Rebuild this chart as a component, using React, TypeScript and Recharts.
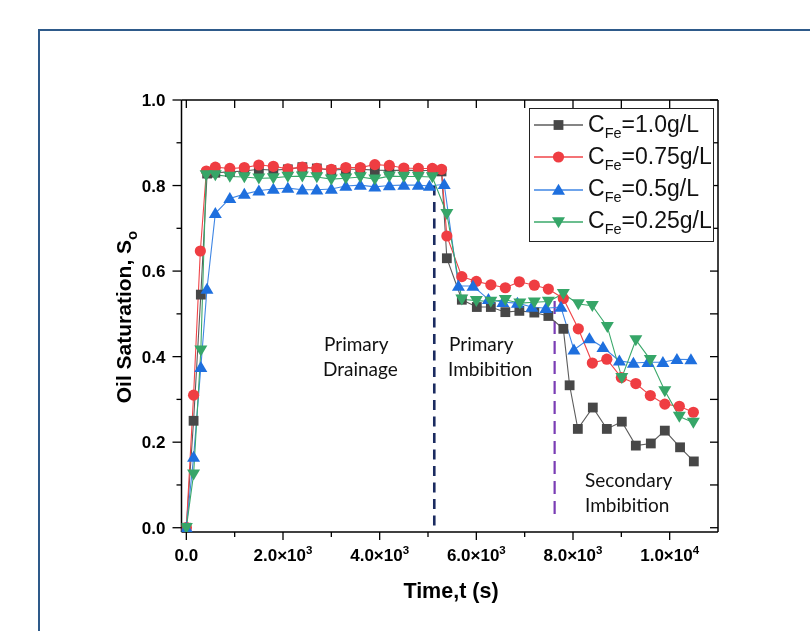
import React from 'react';
import { LineChart, Line, XAxis, YAxis, Legend, ReferenceLine, Customized } from 'recharts';

// ---------------- data ----------------
const seriesNames = ['1.0g/L', '0.75g/L', '0.5g/L', '0.25g/L'];

const timeFe100 = [0, 150, 300, 430, 600, 900, 1200, 1500, 1800, 2100, 2400, 2700, 3000, 3300, 3600, 3900, 4200, 4500, 4800, 5090, 5280, 5390, 5700, 6010, 6300, 6600, 6890, 7200, 7490, 7800, 7930, 8100, 8410, 8700, 9010, 9300, 9610, 9900, 10215, 10500];
const satFe100 = [0, 0.25, 0.545, 0.828, 0.830, 0.832, 0.834, 0.838, 0.836, 0.838, 0.843, 0.840, 0.836, 0.838, 0.838, 0.836, 0.835, 0.836, 0.835, 0.835, 0.833, 0.630, 0.533, 0.516, 0.516, 0.504, 0.507, 0.503, 0.495, 0.465, 0.333, 0.231, 0.281, 0.231, 0.248, 0.192, 0.197, 0.227, 0.188, 0.155];

const timeFe075 = [0, 150, 290, 414, 600, 900, 1200, 1500, 1800, 2100, 2400, 2700, 3000, 3300, 3600, 3900, 4200, 4500, 4800, 5090, 5280, 5390, 5700, 6000, 6300, 6600, 6890, 7200, 7490, 7800, 8110, 8400, 8700, 9000, 9300, 9600, 9900, 10200, 10490];
const satFe075 = [0, 0.31, 0.647, 0.834, 0.843, 0.840, 0.842, 0.848, 0.845, 0.839, 0.843, 0.840, 0.838, 0.842, 0.842, 0.849, 0.847, 0.841, 0.840, 0.840, 0.838, 0.682, 0.587, 0.576, 0.568, 0.561, 0.575, 0.567, 0.558, 0.536, 0.465, 0.385, 0.394, 0.351, 0.337, 0.309, 0.289, 0.284, 0.270];

const timeFe050 = [0, 150, 300, 427, 600, 900, 1200, 1500, 1800, 2100, 2400, 2700, 3000, 3300, 3600, 3900, 4200, 4500, 4800, 5030, 5335, 5630, 5930, 6250, 6550, 6850, 7150, 7440, 7750, 8020, 8340, 8620, 8960, 9250, 9550, 9860, 10150, 10440];
const satFe050 = [0, 0.165, 0.375, 0.558, 0.735, 0.770, 0.780, 0.788, 0.792, 0.794, 0.790, 0.790, 0.792, 0.799, 0.801, 0.797, 0.800, 0.801, 0.801, 0.799, 0.803, 0.565, 0.565, 0.534, 0.527, 0.525, 0.516, 0.513, 0.516, 0.416, 0.442, 0.422, 0.390, 0.385, 0.387, 0.387, 0.394, 0.393];

const timeFe025 = [0, 150, 300, 410, 600, 900, 1200, 1500, 1800, 2100, 2400, 2700, 3000, 3300, 3600, 3900, 4200, 4500, 4800, 5090, 5390, 5700, 6000, 6300, 6600, 6900, 7200, 7490, 7800, 8110, 8400, 8710, 9010, 9300, 9600, 9900, 10200, 10490];
const satFe025 = [0, 0.125, 0.415, 0.825, 0.825, 0.821, 0.820, 0.817, 0.818, 0.821, 0.822, 0.820, 0.815, 0.817, 0.820, 0.815, 0.822, 0.821, 0.821, 0.820, 0.734, 0.534, 0.531, 0.529, 0.533, 0.525, 0.527, 0.529, 0.547, 0.523, 0.519, 0.470, 0.351, 0.439, 0.393, 0.320, 0.260, 0.246];

const xTicks = [0, 1000, 2000, 3000, 4000, 5000, 6000, 7000, 8000, 9000, 10000];
const xMajorValues = [0, 2000, 4000, 6000, 8000, 10000];
const xMajorLabels = ['0.0', '2.0×10^3', '4.0×10^3', '6.0×10^3', '8.0×10^3', '1.0×10^4'];
const yTicks = [0, 0.1, 0.2, 0.3, 0.4, 0.5, 0.6, 0.7, 0.8, 0.9, 1.0];
const yMajorLabels = ['0.0', '0.2', '0.4', '0.6', '0.8', '1.0'];

const xDomain = [-100, 11000];
const yDomain = [-0.01, 1.0];

const drainageEndTime = 5130;
const imbibitionEndTime = 7620;

// ---------------- helpers ----------------
const toPoints = (t: number[], s: number[]) => t.map((tv, i) => ({ t: tv, s: s[i] }));

const AXIS_FONT = '"Liberation Sans", Arial, sans-serif';
const NOTE_FONT = 'Lato, "Open Sans", sans-serif';

const styles = [
  { marker: '#474747', line: '#5c5c5c', shape: 'square' },
  { marker: '#EF3D42', line: '#F04448', shape: 'circle' },
  { marker: '#1E6FDE', line: '#3F86E4', shape: 'up' },
  { marker: '#36A668', line: '#3AA86A', shape: 'down' },
];

const Marker = ({ cx, cy, shape, color }: any) => {
  if (cx == null || cy == null || isNaN(cx) || isNaN(cy)) return null;
  if (shape === 'square') return <rect x={cx - 4.9} y={cy - 4.9} width={9.8} height={9.8} fill={color} />;
  if (shape === 'circle') return <circle cx={cx} cy={cy} r={5.6} fill={color} />;
  if (shape === 'up') return <polygon points={`${cx},${cy - 6.3} ${cx - 6.5},${cy + 4.7} ${cx + 6.5},${cy + 4.7}`} fill={color} />;
  return <polygon points={`${cx - 6.5},${cy - 4.7} ${cx + 6.5},${cy - 4.7} ${cx},${cy + 6.3}`} fill={color} />;
};

const makeDot = (shape: string, color: string) => (props: any) => (
  <Marker key={`d-${shape}-${props.index}`} cx={props.cx} cy={props.cy} shape={shape} color={color} />
);

const BottomTick = (props: any) => {
  const { x, y, payload } = props;
  const v = payload.value;
  const mi = xMajorValues.indexOf(v);
  const major = mi >= 0;
  let label: any = null;
  if (major) {
    const [base, exp] = xMajorLabels[mi].split('^');
    label = (
      <text x={x} y={y + 29} textAnchor="middle" fontFamily={AXIS_FONT} fontWeight="bold" fontSize={17} fill="#000">
        <tspan>{base}</tspan>
        {exp ? <tspan dy={-7} fontSize={11.5}>{exp}</tspan> : null}
      </text>
    );
  }
  return (
    <g>
      <line x1={x} y1={y} x2={x} y2={y + (major ? 8 : 5)} stroke="#000" strokeWidth={1.3} />
      {label}
    </g>
  );
};

const TopTick = (props: any) => {
  const { x, y } = props;
  return <line x1={x} y1={y} x2={x} y2={y + 8} stroke="#000" strokeWidth={1.3} />;
};

const LeftTick = (props: any) => {
  const { x, y, index } = props;
  const major = index % 2 === 0;
  return (
    <g>
      <line x1={x - (major ? 9 : 5)} y1={y} x2={x} y2={y} stroke="#000" strokeWidth={1.3} />
      {major ? (
        <text x={x - 16} y={y + 6} textAnchor="end" fontFamily={AXIS_FONT} fontWeight="bold" fontSize={17} fill="#000">
          {yMajorLabels[index / 2]}
        </text>
      ) : null}
    </g>
  );
};

const RightTick = (props: any) => {
  const { x, y } = props;
  return <line x1={x - 8} y1={y} x2={x} y2={y} stroke="#000" strokeWidth={1.3} />;
};

const renderLegend = () => (
  <div style={{ position: 'relative', width: 185, height: 134, border: '1px solid #222', boxSizing: 'border-box', background: '#fff' }}>
    {seriesNames.map((name, i) => (
      <div key={name} style={{ position: 'absolute', left: 0, top: i * 32.3, height: 32, display: 'flex', alignItems: 'center' }}>
        <svg width={58} height={32} style={{ display: 'block' }}>
          <line x1={4} x2={53} y1={16} y2={16} stroke={styles[i].line} strokeWidth={1.3} />
          <Marker cx={28.5} cy={16} shape={styles[i].shape} color={styles[i].marker} />
        </svg>
        <span style={{ fontFamily: AXIS_FONT, fontSize: 23, color: '#111', whiteSpace: 'nowrap', lineHeight: '32px' }}>
          C<span style={{ fontSize: 14.5, position: 'relative', top: 6 }}>Fe</span>={name}
        </span>
      </div>
    ))}
  </div>
);

const Annotations = () => (
  <g>
    <text x={123} y={309} transform="rotate(-90 123 309)" textAnchor="middle" fontFamily={AXIS_FONT} fontWeight="bold" fontSize={21} fill="#000">
      <tspan>Oil Saturation, S</tspan>
      <tspan dy={6} fontSize={15}>o</tspan>
    </text>
    <text x={443} y={590} textAnchor="middle" fontFamily={AXIS_FONT} fontWeight="bold" fontSize={21.5} fill="#000">
      Time,t (s)
    </text>
    <g fontFamily={NOTE_FONT} fontSize={19} fill="#111">
      <text x={316} y={343}>Primary</text>
      <text x={315} y={368}>Drainage</text>
      <text x={441} y={343}>Primary</text>
      <text x={440} y={368}>Imbibition</text>
      <text x={577} y={479}>Secondary</text>
      <text x={577} y={504}>Imbibition</text>
    </g>
  </g>
);

const allSeries = [
  toPoints(timeFe100, satFe100),
  toPoints(timeFe075, satFe075),
  toPoints(timeFe050, satFe050),
  toPoints(timeFe025, satFe025),
];

export default function App() {
  return (
    <div style={{ position: 'relative', width: 794, height: 615, background: '#fff' }}>
      <div
        style={{
          position: 'fixed', left: 38, top: 29, width: 900, height: 800,
          borderLeft: '2px solid #2E5A8A', borderTop: '2px solid #2E5A8A', boxSizing: 'border-box',
        }}
      />
      <LineChart width={794} height={615} margin={{ top: 82, right: 74, bottom: 31, left: 103.5 }} style={{ position: 'absolute', left: 0, top: 0 }}>
        <XAxis dataKey="t" type="number" domain={xDomain} ticks={xTicks} interval={0} allowDataOverflow
          height={60} tickSize={0} tickMargin={0} tick={<BottomTick />} tickLine={false}
          axisLine={{ stroke: '#000', strokeWidth: 1.5 }} />
        <XAxis xAxisId="top" orientation="top" dataKey="t" type="number" domain={xDomain} ticks={xTicks} interval={0} allowDataOverflow
          height={10} tickSize={0} tickMargin={0} tick={<TopTick />} tickLine={false}
          axisLine={{ stroke: '#000', strokeWidth: 1.5 }} />
        <YAxis type="number" domain={yDomain} ticks={yTicks} interval={0} allowDataOverflow
          width={70} tickSize={0} tickMargin={0} tick={<LeftTick />} tickLine={false}
          axisLine={{ stroke: '#000', strokeWidth: 1.5 }} />
        <YAxis yAxisId="right" orientation="right" type="number" domain={yDomain} ticks={yTicks} interval={0} allowDataOverflow
          width={10} tickSize={0} tickMargin={0} tick={<RightTick />} tickLine={false}
          axisLine={{ stroke: '#000', strokeWidth: 1.5 }} />
        <ReferenceLine segment={[{ x: drainageEndTime, y: 0.80 }, { x: drainageEndTime, y: -0.01 }]}
          stroke="#1B2B60" strokeWidth={2.6} strokeDasharray="10 6.5" ifOverflow="visible" />
        <ReferenceLine segment={[{ x: imbibitionEndTime, y: 0.53 }, { x: imbibitionEndTime, y: 0.025 }]}
          stroke="#7A3DB5" strokeWidth={2.2} strokeDasharray="13 7" ifOverflow="visible" />
        {allSeries.map((pts, i) => (
          <Line key={seriesNames[i]} data={pts} dataKey="s" name={seriesNames[i]} type="linear"
            stroke={styles[i].line} strokeWidth={1.1} isAnimationActive={false}
            dot={makeDot(styles[i].shape, styles[i].marker)} activeDot={false} />
        ))}
        <Legend layout="vertical" align="center" verticalAlign="middle" content={renderLegend}
          wrapperStyle={{ left: 521, top: 100, width: 185, height: 134 }} />
        <Customized component={Annotations} />
      </LineChart>
    </div>
  );
}
